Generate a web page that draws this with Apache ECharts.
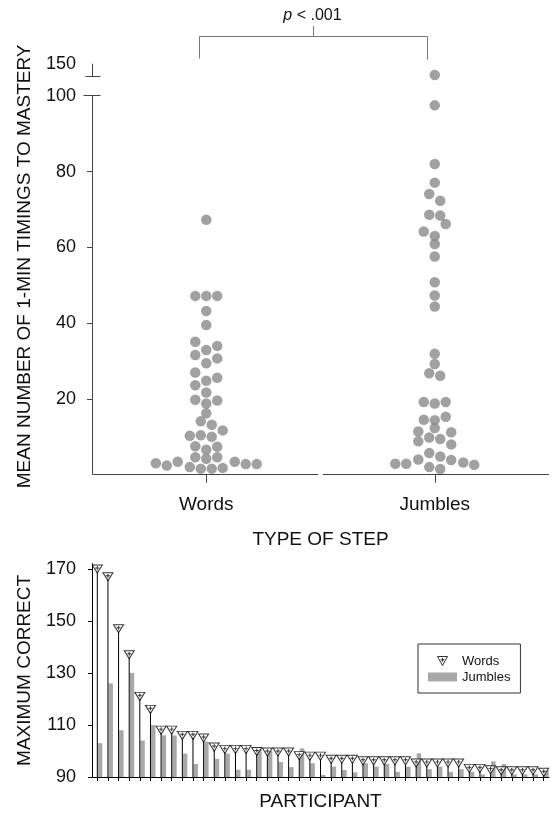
<!DOCTYPE html>
<html>
<head>
<meta charset="utf-8">
<script src="https://cdn.jsdelivr.net/npm/echarts@6/dist/echarts.min.js"></script>
<style>
  html, body { margin: 0; padding: 0; background: #ffffff; }
  #chart { width: 553px; height: 815px; }
</style>
</head>
<body>
<div id="chart"></div>
<script>
// ---------- top panel: mean timings to mastery (beeswarm) ----------
const stepNames = ['Words', 'Jumbles'];
const timingTicks = [20, 40, 60, 80, 100, 150];

const wordsTimings = [
  67.3, 47.2, 47.2, 47.2, 43.2, 39.5, 35.1, 34.0, 32.9, 31.6, 30.7, 29.4, 27.0, 25.6,
  24.8, 23.6, 21.7, 19.8, 19.6, 18.8, 16.2, 14.1, 13.2, 11.7, 10.3, 10.4, 10.0,
  7.5, 6.6, 7.4, 4.6, 4.2, 4.6,
  3.0, 2.4, 3.4, 2.0, 1.6, 1.6, 1.8, 3.4, 2.8, 2.8
];
// sideways place of each dot in the swarm, in dot widths
const wordsJitter = [
  0, -1, 0, 1, 0, 0, -1, 1, 0, -1, 1, 0, -1, 1,
  0, -1, 0, -1, 1, 0, 0, -0.5, 0.5, 1.5, -1.5, -0.5, 0.5,
  -1, 0, 1, -1, 0, 1,
  -4.6, -3.6, -2.6, -1.5, -0.5, 0.5, 1.5, 2.6, 3.6, 4.6
];

const jumblesTimings = [
  147, 97.5, 82.0, 77.1, 74.1, 72.3, 68.6, 68.4, 66.2, 64.2, 63.0, 60.9, 57.6,
  50.8, 47.3, 44.4, 31.9, 29.2, 26.8, 26.1,
  19.2, 18.8, 19.2, 14.5, 14.4, 15.3, 12.3,
  11.4, 9.8, 9.4, 11.2, 8.8, 8.0, 5.7, 4.8,
  2.9, 2.9, 4.0, 2.0, 1.5, 3.9, 3.2, 2.6
];
const jumblesJitter = [
  0, 0, 0, 0, -0.5, 0.5, -0.5, 0.5, 1, -1, 0, 0, 0,
  0, 0, 0, 0, 0, -0.5, 0.5,
  -1, 0, 1, -1, 0, 1, 0,
  -1.5, -0.5, 0.5, 1.5, -1.5, 1.5, -0.5, 0.5,
  -3.6, -2.6, -1.5, -0.5, 0.5, 1.5, 2.6, 3.6
];

// ---------- bottom panel: maximum correct per participant ----------
const correctTicks = [90, 110, 130, 150, 170];
const wordsMax = [
  170, 167, 147, 137, 121, 116, 108, 108, 106, 106, 105, 101.5, 100.6, 100.6, 100.6,
  99.8, 99.6, 99.6, 99.6, 98.2, 98, 98, 96.8, 96.8, 96.8, 96.2, 96.2, 96.2, 96.2, 96.2,
  95.4, 95.4, 95.4, 95.4, 95.4, 93.3, 93.3, 92.8, 92.4, 92.4, 92.4, 92.4, 91.8
];
const jumblesMax = [
  103, 126, 108, 130, 104, 110, 106, 106, 99, 95, 103.6, 97, 99, 92.8, 92.8,
  101, 100, 95.8, 93.8, 101, 95.3, 90.8, 94, 92.7, 91.8, 95.3, 94, 95, 92, 94,
  99.1, 93, 94, 92, 93, 92, 91, 96, 95, 91, 91, 91, 92.7
];
const participants = wordsMax.map((_, i) => i + 1);

// axis break on the top panel: values above 100 are pulled down
const BREAK_LOW = 100;
const BREAK_SHIFT = 41.5;
const BREAK_RESUME = 146.5;
function toDisplay(v) { return v > BREAK_LOW ? v - BREAK_SHIFT : v; }

const DOT_STEP = 0.048;     // one dot width in x-axis units
const FONT = "'Liberation Sans', Arial, sans-serif";
const AXIS_GREY = '#444';
const TRI_PATH = 'path://M0,0L10,0L5,9Z M5,1.3L5,5.3 M3,3.3L7,3.3';

const chart = echarts.init(document.getElementById('chart'), null, { renderer: 'canvas' });

const option = {
  backgroundColor: '#ffffff',
  animation: false,
  textStyle: { fontFamily: FONT, color: '#111' },
  grid: [
    { left: 92, top: 58, width: 457, height: 416.7 },
    { left: 92, top: 563.8, width: 457, height: 213.2 }
  ],
  xAxis: [
    {
      gridIndex: 0, type: 'value', min: 0.5, max: 2.5,
      axisLine: { show: false, onZero: false },
      axisTick: { show: true, customValues: [1, 2], length: 8, lineStyle: { color: AXIS_GREY } },
      axisLabel: {
        customValues: [1, 2], margin: 21, fontSize: 19, color: '#111',
        formatter: v => stepNames[Math.round(v) - 1]
      },
      splitLine: { show: false },
      name: 'TYPE OF STEP', nameLocation: 'middle', nameGap: 56,
      nameTextStyle: { fontSize: 19, color: '#111' }
    },
    {
      gridIndex: 1, type: 'value', min: 0.5, max: 43.5,
      axisLine: { show: true, onZero: false, lineStyle: { color: '#000', width: 1 } },
      axisTick: { show: true, customValues: participants, length: 4, lineStyle: { color: '#000' } },
      axisLabel: { show: false },
      splitLine: { show: false },
      name: 'PARTICIPANT', nameLocation: 'middle', nameGap: 15,
      nameTextStyle: { fontSize: 19, color: '#111' }
    }
  ],
  yAxis: [
    {
      gridIndex: 0, type: 'value', min: 0, max: 110,
      axisLine: { show: false, onZero: false },
      axisTick: { show: true, customValues: [20, 40, 60, 80], length: 5, lineStyle: { color: AXIS_GREY } },
      axisLabel: {
        customValues: timingTicks.map(toDisplay), margin: 16, fontSize: 18, color: '#111',
        formatter: v => String(v > BREAK_LOW ? v + BREAK_SHIFT : v)
      },
      splitLine: { show: false },
      name: 'MEAN NUMBER OF 1-MIN TIMINGS TO MASTERY', nameLocation: 'middle', nameGap: 58,
      nameTextStyle: { fontSize: 19, color: '#111' }
    },
    {
      gridIndex: 1, type: 'value', min: 90, max: 172,
      axisLine: { show: true, onZero: false, lineStyle: { color: '#000', width: 1 } },
      axisTick: { show: true, customValues: correctTicks, length: 4, lineStyle: { color: '#000' } },
      axisLabel: { customValues: correctTicks, margin: 16, fontSize: 18, color: '#111' },
      splitLine: { show: false },
      name: 'MAXIMUM CORRECT', nameLocation: 'middle', nameGap: 58,
      nameTextStyle: { fontSize: 19, color: '#111' }
    }
  ],
  legend: {
    data: [
      { name: 'Words', icon: TRI_PATH, itemStyle: { color: '#fff', borderColor: '#000', borderWidth: 1 } },
      { name: 'Jumbles', icon: 'rect', itemStyle: { color: '#a8a8a8' } }
    ],
    orient: 'vertical', left: 418, top: 644,
    padding: [10, 10, 9, 10], itemGap: 2,
    itemWidth: 29, itemHeight: 9,
    borderColor: '#333', borderWidth: 1,
    selectedMode: false,
    textStyle: { fontSize: 13, lineHeight: 14, color: '#111' }
  },
  series: [
    {
      name: 'Words swarm', type: 'scatter', xAxisIndex: 0, yAxisIndex: 0,
      data: wordsTimings.map((v, i) => [1 + wordsJitter[i] * DOT_STEP, toDisplay(v)]),
      symbol: 'circle', symbolSize: 10.5,
      itemStyle: { color: '#8a8a8a' }, silent: true
    },
    {
      name: 'Jumbles swarm', type: 'scatter', xAxisIndex: 0, yAxisIndex: 0,
      data: jumblesTimings.map((v, i) => [2 + jumblesJitter[i] * DOT_STEP, toDisplay(v)]),
      symbol: 'circle', symbolSize: 10.5,
      itemStyle: { color: '#8a8a8a' }, silent: true
    },
    {
      name: 'Words needle', type: 'bar', xAxisIndex: 1, yAxisIndex: 1,
      data: participants.map((p, i) => [p, wordsMax[i]]),
      barWidth: 1, itemStyle: { color: '#000' }, silent: true, z: 2
    },
    {
      name: 'Jumbles', type: 'custom', xAxisIndex: 1, yAxisIndex: 1,
      data: participants.map((p, i) => [p, jumblesMax[i]]),
      itemStyle: { color: '#a8a8a8' }, silent: true, z: 1,
      renderItem: function (params, api) {
        const base = api.coord([api.value(0), correctTicks[0]]);
        const top = api.coord([api.value(0), api.value(1)]);
        return {
          type: 'rect',
          shape: { x: base[0] + 0.5, y: top[1], width: 4.5, height: base[1] - top[1] },
          style: { fill: api.visual('color') }
        };
      }
    },
    {
      name: 'Words', type: 'scatter', xAxisIndex: 1, yAxisIndex: 1,
      data: participants.map((p, i) => [p, wordsMax[i]]),
      symbol: TRI_PATH, symbolSize: [10, 9], symbolKeepAspect: true,
      itemStyle: { color: '#fff', borderColor: '#000', borderWidth: 1 },
      silent: true, z: 4
    }
  ]
};

chart.setOption(option);

// ---------- broken axis lines and the significance bracket ----------
function crisp(v) { return Math.round(v - 0.5) + 0.5; }
function at(pt) { return chart.convertToPixel({ gridIndex: 0 }, pt); }
function seg(x1, y1, x2, y2, color) {
  return {
    type: 'line', silent: true,
    shape: { x1: x1, y1: y1, x2: x2, y2: y2 },
    style: { stroke: color, lineWidth: 1 }
  };
}

const origin = at([0.5, 0]);
const ax = crisp(origin[0]);
const ay = crisp(origin[1]);
const y100 = crisp(at([0.5, BREAK_LOW])[1]);
const yResume = crisp(at([0.5, toDisplay(BREAK_RESUME)])[1]);
const yStub = at([0.5, toDisplay(150)])[1];
const xGapL = at([1.49, 0])[0];
const xGapR = at([1.51, 0])[0];
const xEnd = at([2.5, 0])[0];

const bracketL = crisp(at([1, 0])[0] - 7);
const bracketR = crisp(at([2, 0])[0] - 7);
const bracketMid = crisp((bracketL + bracketR) / 2);
const BRACKET_GREY = '#777';

chart.setOption({
  graphic: [
    // y axis with break
    seg(ax, ay, ax, y100, AXIS_GREY),
    seg(ax - 9, y100, ax + 8, y100, AXIS_GREY),
    seg(ax - 7, yResume, ax + 8, yResume, AXIS_GREY),
    seg(ax, yResume, ax, yStub, AXIS_GREY),
    // x axis split between the two steps
    seg(ax, ay, xGapL, ay, AXIS_GREY),
    seg(xGapR, ay, xEnd, ay, AXIS_GREY),
    // significance bracket
    seg(bracketL, 36.5, bracketR, 36.5, BRACKET_GREY),
    seg(bracketL, 36.5, bracketL, 58.5, BRACKET_GREY),
    seg(bracketR, 36.5, bracketR, 59.5, BRACKET_GREY),
    seg(bracketMid, 26, bracketMid, 36.5, BRACKET_GREY),
    {
      type: 'text', silent: true,
      style: {
        x: bracketMid - 1, y: 16,
        text: '{i|p} < .001',
        align: 'center', verticalAlign: 'middle',
        fontSize: 16, fontFamily: FONT, fill: '#111',
        rich: { i: { fontStyle: 'italic', fontSize: 16, fontFamily: FONT, fill: '#111' } }
      }
    }
  ]
});

window.addEventListener('resize', () => chart.resize());
</script>
</body>
</html>
